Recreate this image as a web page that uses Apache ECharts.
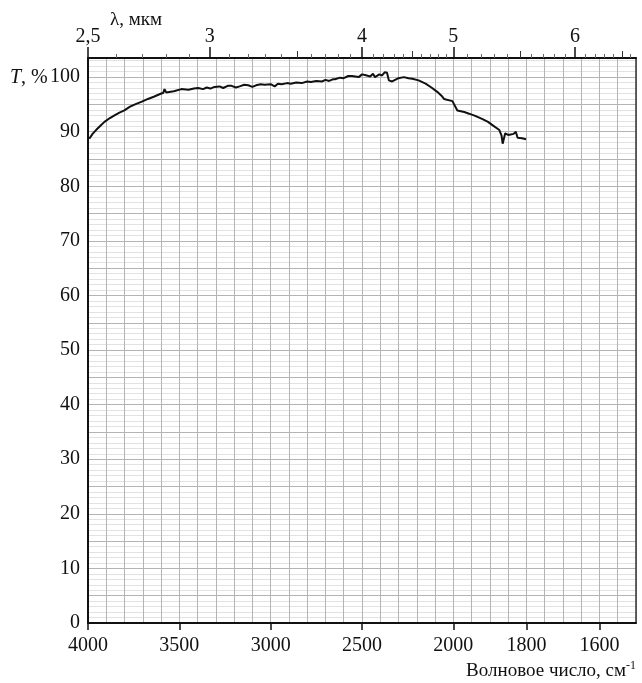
<!DOCTYPE html>
<html><head><meta charset="utf-8">
<script src="https://cdn.jsdelivr.net/npm/echarts@6/dist/echarts.min.js"></script>
<style>html,body{margin:0;padding:0;background:#fff}#c{width:642px;height:683px}</style>
</head><body><div id="c"></div>
<script>
// Spectrum (wavenumber, cm-1  ->  transmittance, %)
const wavenumbers = [3993,3975,3956,3932,3910,3880,3855,3828,3801,3770,3736,3705,3672,3640,3599,3588,3581,3572,3562,3530,3489,3450,3420,3397,3370,3350,3330,3308,3280,3260,3235,3214,3190,3170,3145,3123,3100,3080,3055,3033,3000,2978,2960,2940,2910,2890,2860,2830,2800,2780,2750,2720,2700,2680,2660,2648,2620,2600,2575,2555,2518,2500,2484,2455,2440,2429,2405,2390,2375,2363,2353,2335,2300,2271,2245,2225,2190,2152,2120,2088,2065,2051,2005,1989,1970,1957,1940,1920,1905,1893,1874,1868,1865,1858,1850,1843,1835,1829,1824,1812,1801];
const transmittance = [88.7,89.6,90.3,91.1,91.8,92.5,93.0,93.5,93.9,94.6,95.1,95.5,96.0,96.4,97.0,97.1,97.8,97.2,97.1,97.4,97.8,97.7,97.9,98.0,97.8,98.1,97.9,98.2,98.3,98.0,98.4,98.4,98.1,98.3,98.6,98.5,98.2,98.5,98.7,98.6,98.7,98.3,98.8,98.7,98.9,98.8,99.0,98.9,99.2,99.1,99.3,99.2,99.5,99.3,99.6,99.6,99.9,99.8,100.2,100.2,100.0,100.5,100.4,100.1,100.6,100.0,100.5,100.3,100.9,100.8,99.4,99.2,99.8,100.0,99.8,99.7,99.4,98.8,98.1,97.3,96.6,96.0,95.6,93.9,93.6,93.3,92.9,92.3,91.8,91.2,90.3,89.3,87.8,89.7,89.4,89.5,89.6,90.0,88.9,88.8,88.6];

const bottomTicks = [4000,3500,3000,2500,2000,1800,1600];
const yLabels = [0,10,20,30,40,50,60,70,80,90,100];
const lambdaMajor = [2.5,3,4,5,6];
const lambdaHalf = [3.5,4.5,5.5,6.5];
const lambdaMinor = [2.6,2.7,2.8,2.9,3.1,3.2,3.3,3.4,3.6,3.7,3.8,3.9,4.1,4.2,4.3,4.4,4.6,4.7,4.8,4.9,5.1,5.2,5.3,5.4,5.6,5.7,5.8,5.9,6.1,6.2,6.3,6.4,6.6];

// Chart paper: the range below 2000 cm-1 is drawn at double scale
function toU(w){ return w >= 2000 ? w : 2*w - 2000; }
function fromU(u){ return u >= 2000 ? u : (u + 2000)/2; }
function lamToU(l){ return toU(10000/l); }

const SERIF = '"Liberation Serif", "DejaVu Serif", serif';
const FINE = '#e2e2e2', MED = '#b4b4b4';

const chart = echarts.init(document.getElementById('c'), null, {renderer:'canvas'});
const hidden = {axisLine:{show:false, onZero:false}, axisTick:{show:false}, axisLabel:{show:false}};
const xBase = {type:'value', min:1000, max:4000, inverse:true, gridIndex:0};
const YMAX = 103.5;

chart.setOption({
  animation:false,
  backgroundColor:'#ffffff',
  grid:{left:88, right:6, top:58, bottom:60, containLabel:false},
  xAxis:[
    Object.assign({}, xBase, {position:'bottom', interval:20,
      axisLine:{show:true, onZero:false, lineStyle:{color:'#111', width:2}},
      axisTick:{show:true, inside:false, length:7, customValues:bottomTicks.map(toU), lineStyle:{color:'#111', width:1.5}},
      axisLabel:{show:true, customValues:bottomTicks.map(toU), margin:13, color:'#111', fontFamily:SERIF, fontSize:20,
        formatter:v => String(Math.round(fromU(v)))},
      splitLine:{show:true, lineStyle:{color:FINE, width:1}}}),
    Object.assign({}, xBase, hidden, {position:'bottom', interval:100,
      splitLine:{show:true, lineStyle:{color:MED, width:1}}}),
    Object.assign({}, xBase, {position:'top',
      axisLine:{show:true, onZero:false, lineStyle:{color:'#111', width:2}},
      axisTick:{show:true, inside:false, length:11, customValues:lambdaMajor.map(lamToU), lineStyle:{color:'#111', width:1.5}},
      axisLabel:{show:true, customValues:lambdaMajor.map(lamToU), margin:11, color:'#111', fontFamily:SERIF, fontSize:20,
        formatter:v => String(Math.round(10000/fromU(v)*10)/10).replace('.', ',')},
      splitLine:{show:false}}),
    Object.assign({}, xBase, {position:'top',
      axisLine:{show:false, onZero:false},
      axisTick:{show:true, inside:false, length:7, customValues:lambdaHalf.map(lamToU), lineStyle:{color:'#333', width:1}},
      axisLabel:{show:false}, splitLine:{show:false}}),
    Object.assign({}, xBase, {position:'top',
      axisLine:{show:false, onZero:false},
      axisTick:{show:true, inside:false, length:4, customValues:lambdaMinor.map(lamToU), lineStyle:{color:'#666', width:1}},
      axisLabel:{show:false}, splitLine:{show:false}})
  ],
  yAxis:[
    {type:'value', min:0, max:YMAX, interval:1, position:'left',
      axisLine:{show:true, onZero:false, lineStyle:{color:'#111', width:2}},
      axisTick:{show:false},
      axisLabel:{show:true, customValues:yLabels, margin:8, color:'#111', fontFamily:SERIF, fontSize:20},
      splitLine:{show:true, lineStyle:{color:FINE, width:1}}},
    Object.assign({type:'value', min:0, max:YMAX, interval:5, position:'left'}, hidden,
      {splitLine:{show:true, lineStyle:{color:MED, width:1}}}),
    {type:'value', min:0, max:YMAX, position:'right',
      axisLine:{show:true, onZero:false, lineStyle:{color:'#333', width:1.5}},
      axisTick:{show:false}, axisLabel:{show:false}, splitLine:{show:false}}
  ],
  graphic:[
    {type:'text', left:10, top:68, style:{text:'{i|T}, %', fontFamily:SERIF, fontSize:20, fill:'#111',
      rich:{i:{fontStyle:'italic', fontFamily:SERIF, fontSize:20, fill:'#111'}}}},
    {type:'text', left:110, top:11, style:{text:'λ, мкм', fontFamily:SERIF, fontSize:19, fill:'#111'}},
    {type:'text', right:6, top:660, style:{text:'Волновое число, см{s|-1}', fontFamily:SERIF, fontSize:19, fill:'#111',
      rich:{s:{fontFamily:SERIF, fontSize:12, fill:'#111', verticalAlign:'top', padding:[0,0,10,0]}}}}
  ],
  series:[{
    type:'line', xAxisIndex:0, yAxisIndex:0, showSymbol:false, smooth:false,
    lineStyle:{color:'#111', width:2},
    data:wavenumbers.map((w,i) => [toU(w), transmittance[i]])
  }]
});
</script></body></html>
